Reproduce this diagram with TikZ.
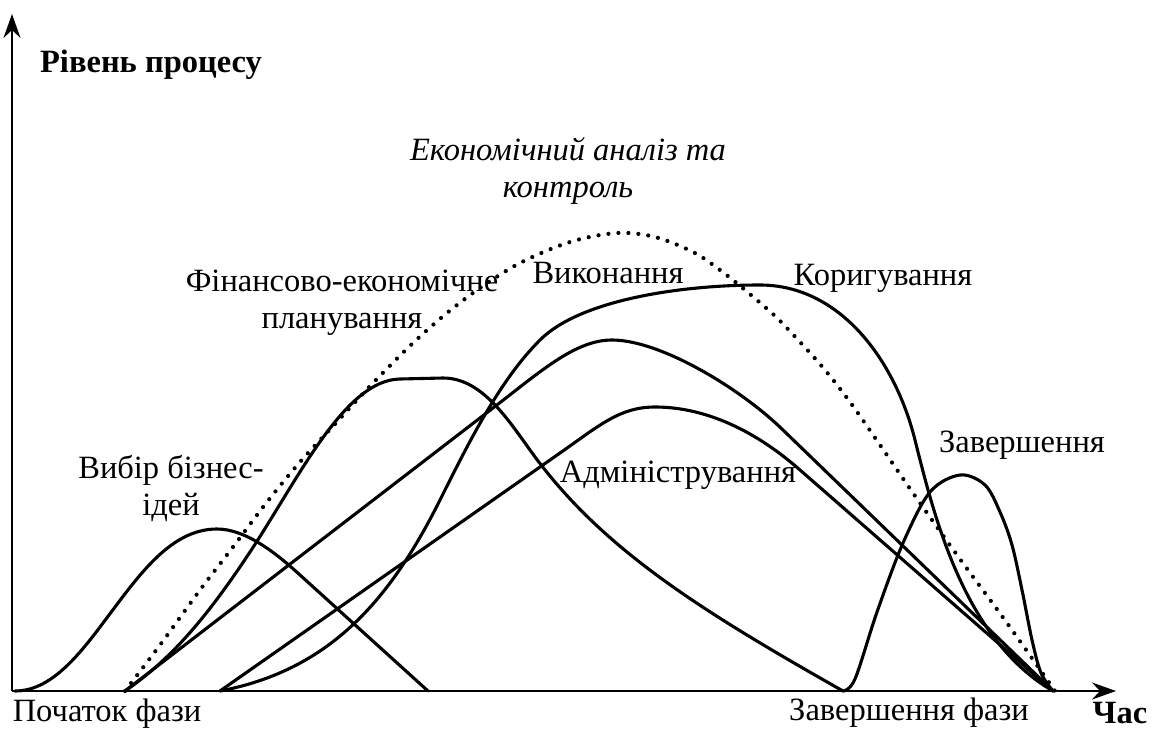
\documentclass[tikz,border=0pt]{standalone}
\usepackage{fontspec}
\setmainfont{Liberation Serif}
\usetikzlibrary{arrows.meta}
\begin{document}
\begin{tikzpicture}[x=1pt,y=-1pt,
  curve/.style={line width=3.1pt, line join=round, line cap=round},
  dotcurve/.style={line width=4.2pt, line cap=round, dash pattern=on 0pt off 10pt},
  axis/.style={line width=2.3pt, -{Stealth[length=24pt,width=17pt,inset=8pt]}},
  lbl/.style={font=\fontsize{32.5}{37}\selectfont, inner sep=0pt, anchor=base, align=center},
  blbl/.style={lbl, font=\fontsize{32.5}{37}\selectfont\bfseries}]
\useasboundingbox (0,0) rectangle (1154,731);
\fill[white] (0,0) rectangle (1154,731);

% axes
\coordinate (O) at (12,691);
\coordinate (ytip) at (12,14);
\coordinate (xtip) at (1116,691);
\draw[axis] (O) -- (ytip);
\draw[axis] (O) -- (xtip);

% dotted: economic analysis and control
\draw[dotcurve] plot[smooth, tension=0.55] coordinates {
 (125,691) (160,645) (200,590) (233,547) (267,502) (300,462) (335,424)
 (373,383) (413,343) (447,313) (480,288) (520,263) (570,242) (617,233)
 (655,237) (693,252) (720,270) (745,290) (775,316) (800,342) (825,370)
 (850,402) (880,445) (913,493) (957,555) (1007,623) (1055,691)};

% business idea selection
\draw[curve] (15,691) .. controls (55,691) and (85,647) .. (115,607)
  .. controls (145,567) and (175,529) .. (217,529)
  .. controls (245,529) and (275,552) .. (300,575) -- (428,691);

% financial-economic planning
\draw[curve] (125,691) .. controls (170,660) and (205,620) .. (250,552)
  .. controls (300,476) and (345,380) .. (400,379) -- (443,378)
  .. controls (480,378) and (505,415) .. (530,450)
  .. controls (600,548) and (700,610) .. (843,691);

% completion
\draw[curve] plot[smooth, tension=0.55] coordinates {
 (843,691) (855,679) (877,612) (903,543) (930,492) (960,475) (985,485) (1000,512)
 (1012,545) (1022,590) (1032,640) (1041,673) (1053,691)};

% execution + correction
\draw[curve] (220,691) .. controls (330,670) and (390,600) .. (440,500)
  .. controls (470,440) and (500,380) .. (540,340)
  .. controls (580,300) and (680,285) .. (760,285)
  .. controls (840,285) and (895,360) .. (915,440)
  .. controls (935,520) and (965,640) .. (1053,691);

% upper straight-peak curve
\draw[curve] (125,691) -- (493,408) .. controls (540,372) and (575,340) .. (612,340)
  .. controls (660,340) and (740,388) .. (783,430) -- (1053,691);

% administration curve
\draw[curve] (220,691) -- (560,453) .. controls (600,425) and (620,407) .. (655,407)
  .. controls (700,407) and (750,426) .. (800,470) -- (1053,691);

% labels
\node[blbl] (level) at (151,72) {Рівень процесу};
\node[lbl, font=\fontsize{32.5}{37}\selectfont\itshape] (econ) at (568,197) {Економічний аналіз та\\контроль};
\node[lbl] (fin) at (342,328) {Фінансово-економічне\\планування};
\node[lbl] (exec) at (608,283) {Виконання};
\node[lbl] (corr) at (883,285) {Коригування};
\node[lbl] (compl) at (1022,452) {Завершення};
\node[lbl] (admin) at (678,482) {Адміністрування};
\node[lbl] (idea) at (171,515) {Вибір бізнес-\\ідей};
\node[lbl] (start) at (107,721) {Початок фази};
\node[lbl] (end) at (909,720) {Завершення фази};
\node[blbl] (time) at (1120,723) {Час};
\end{tikzpicture}
\end{document}
